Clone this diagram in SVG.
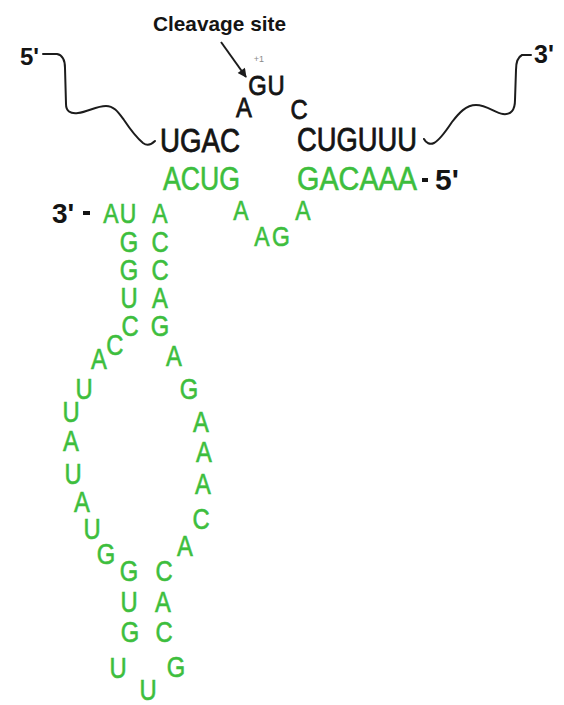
<svg xmlns="http://www.w3.org/2000/svg" width="564" height="705" viewBox="0 0 564 705">
  <style>
    text { font-family: "Liberation Sans", Arial, Helvetica, sans-serif; }
    .k { fill: #141414; stroke: #141414; stroke-width: 0.8px; }
    .g { fill: #3dbe3d; stroke: #3dbe3d; stroke-width: 0.6px; }
    .big { font-size: 33px; }
    .mid { font-size: 28px; text-anchor: middle; }
    .sm { font-size: 29px; text-anchor: middle; }
    .lab { font-weight: bold; fill: #141414; }
    .tiny { font-size: 9px; fill: #8a8a8a; text-anchor: middle; }
    .strand { fill: none; stroke: #1c1c1c; stroke-width: 2; stroke-linecap: round; stroke-linejoin: round; }
    .ptr { fill: none; stroke: #1c1c1c; stroke-width: 2; }
  </style>
  <defs>
    <marker id="head" viewBox="0 0 10 10" refX="9" refY="5" markerWidth="10" markerHeight="9" markerUnits="userSpaceOnUse" orient="auto">
      <path d="M0,0 L10,5 L0,10 z" fill="#1c1c1c"/>
    </marker>
  </defs>

  <rect width="564" height="705" fill="#ffffff"/>

  <!-- flanking single-stranded substrate tails and the cleavage pointer -->
  <g id="connectors">
    <path class="strand" d="M43,54 L57,54 C62,55 65,60 65,68 L66,104 C66,111 70,114 78,113 C88,112 96,106 106,106 C114,106 118,112 124,120 C130,129 137,138 143,143 C147,146 151,145 155,141"/>
    <path class="strand" d="M531,55 L522,55 C518,57 516,62 516,70 L515,100 C515,110 511,115 503,114 C495,113 487,105 476,105 C466,105 459,113 452,122 C446,131 440,140 434,143 C430,145 426,143 424,139"/>
    <line class="ptr" x1="221" y1="42" x2="246" y2="77" marker-end="url(#head)"/>
  </g>

  <!-- cleavage site label -->
  <g id="cleavage-label">
    <text class="lab" x="153" y="31" font-size="21" textLength="133" lengthAdjust="spacingAndGlyphs">Cleavage site</text>
    <text class="tiny" x="259" y="62">+1</text>
  </g>

  <!-- end labels -->
  <g id="end-labels">
    <text class="lab" x="20" y="65" font-size="24">5'</text>
    <text class="lab" x="534" y="63" font-size="25">3'</text>
    <text class="lab" x="52" y="223" font-size="28">3'</text>
    <rect x="83" y="211" width="7" height="4" fill="#141414"/>
    <rect x="422" y="178" width="6" height="4" fill="#141414"/>
    <text class="lab" x="435" y="190" font-size="30">5'</text>
  </g>

  <!-- substrate strand (black) -->
  <g id="substrate">
    <text class="k big" x="160" y="152" textLength="80" lengthAdjust="spacingAndGlyphs">UGAC</text>
    <text class="k big" x="297" y="151" textLength="120" lengthAdjust="spacingAndGlyphs">CUGUUU</text>
    <g transform="scale(.85 1)">
      <text class="k mid" x="287.1" y="117">A</text>
      <text class="k mid" x="302.9" y="95">G</text>
      <text class="k mid" x="324.7" y="95">U</text>
      <text class="k mid" x="351.8" y="119">C</text>
    </g>
  </g>

  <!-- ribozyme strand (green) -->
  <g id="ribozyme">
    <text class="g big" x="163" y="190" textLength="77" lengthAdjust="spacingAndGlyphs">ACUG</text>
    <text class="g big" x="297" y="190" textLength="120" lengthAdjust="spacingAndGlyphs">GACAAA</text>
    <g transform="scale(.82 1)">
      <!-- internal loop -->
      <text class="g mid" x="293.9" y="220">A</text>
      <text class="g mid" x="319.5" y="246">A</text>
      <text class="g mid" x="342.7" y="246">G</text>
      <text class="g mid" x="369.5" y="220">A</text>
      <!-- 3' end row -->
      <text class="g mid" x="135.4" y="223">A</text>
      <text class="g mid" x="156.1" y="223">U</text>
      <text class="g mid" x="195.1" y="223">A</text>
      <!-- upper helix -->
      <text class="g sm" x="157.3" y="252">G</text>
      <text class="g sm" x="157.3" y="280">G</text>
      <text class="g sm" x="157.3" y="308">U</text>
      <text class="g sm" x="158.5" y="336">C</text>
      <text class="g sm" x="195.1" y="252">C</text>
      <text class="g sm" x="195.1" y="280">C</text>
      <text class="g sm" x="195.1" y="308">A</text>
      <text class="g sm" x="195.1" y="336">G</text>
      <!-- large loop, left side -->
      <text class="g sm" x="140.2" y="355">C</text>
      <text class="g sm" x="120.7" y="369">A</text>
      <text class="g sm" x="102.4" y="399">U</text>
      <text class="g sm" x="86.6" y="422">U</text>
      <text class="g sm" x="86.6" y="451">A</text>
      <text class="g sm" x="89" y="484">U</text>
      <text class="g sm" x="100" y="512">A</text>
      <text class="g sm" x="112.2" y="539">U</text>
      <text class="g sm" x="129.3" y="564">G</text>
      <!-- large loop, right side -->
      <text class="g sm" x="212.2" y="366">A</text>
      <text class="g sm" x="230.5" y="399">G</text>
      <text class="g sm" x="245.1" y="432">A</text>
      <text class="g sm" x="248.8" y="462">A</text>
      <text class="g sm" x="247.6" y="494">A</text>
      <text class="g sm" x="245.1" y="529">C</text>
      <text class="g sm" x="225.6" y="556">A</text>
      <!-- lower helix -->
      <text class="g sm" x="157.3" y="581">G</text>
      <text class="g sm" x="157.3" y="612">U</text>
      <text class="g sm" x="158.5" y="642">G</text>
      <text class="g sm" x="200" y="581">C</text>
      <text class="g sm" x="198.8" y="612">A</text>
      <text class="g sm" x="200" y="642">C</text>
      <!-- terminal loop -->
      <text class="g sm" x="143.9" y="678">U</text>
      <text class="g sm" x="180.5" y="700">U</text>
      <text class="g sm" x="214.6" y="677">G</text>
    </g>
  </g>
</svg>
